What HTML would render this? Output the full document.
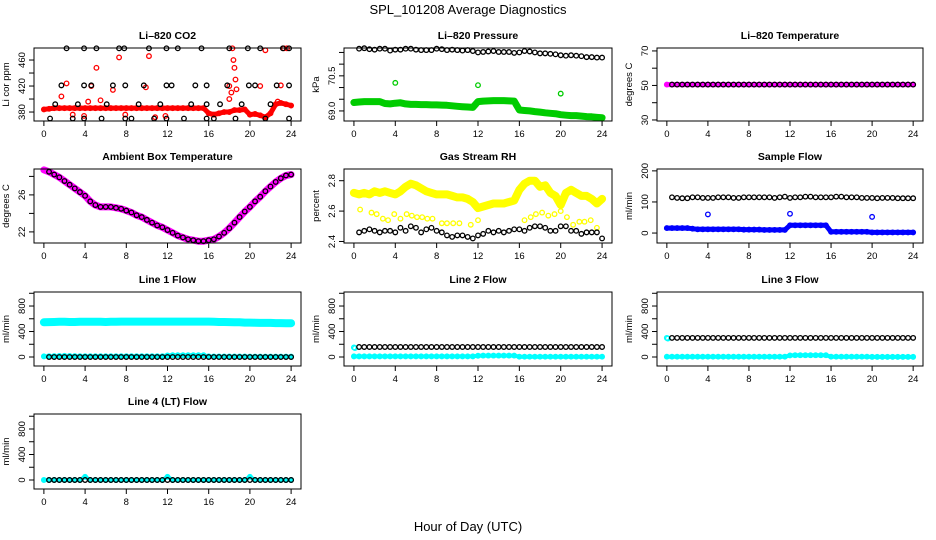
<!DOCTYPE html>
<html><head><meta charset="utf-8"><style>
body{margin:0;background:#fff}
svg{display:block;font-family:"Liberation Sans",sans-serif}
</style></head><body>
<svg id="c" width="936" height="540" viewBox="0 0 936 540">
<text x="468" y="14" text-anchor="middle" font-size="13">SPL_101208  Average Diagnostics</text>
<text x="468" y="531" text-anchor="middle" font-size="13">Hour of Day (UTC)</text>
</svg>
<script>
const H49=[0,0.5,1,1.5,2,2.5,3,3.5,4,4.5,5,5.5,6,6.5,7,7.5,8,8.5,9,9.5,10,10.5,11,11.5,12,12.5,13,13.5,14,14.5,15,15.5,16,16.5,17,17.5,18,18.5,19,19.5,20,20.5,21,21.5,22,22.5,23,23.5,24];
const H48=[0.5,1,1.5,2,2.5,3,3.5,4,4.5,5,5.5,6,6.5,7,7.5,8,8.5,9,9.5,10,10.5,11,11.5,12,12.5,13,13.5,14,14.5,15,15.5,16,16.5,17,17.5,18,18.5,19,19.5,20,20.5,21,21.5,22,22.5,23,23.5,24];
const xTicks=[0,4,8,12,16,20,24];
const co2Red=[384,385,386,386,386,386,386,386,386,386,386,386,386,386,386,386,386,386,386,386,386,386,386,386,386,386,386,386,386,386,386,386,378,376,378,380,380,383,383,384,376,377,375,372,378,392,394,392,390];
const co2RedOutX=[1.7,2.2,2.8,3.9,4.3,4.6,5.1,5.5,6.7,7.3,7.9,9.9,10.2,10.8,11.8,18.0,18.2,18.3,18.4,18.5,18.6,18.7,18.0,21.0,21.5,22.7,23.0,23.3,23.6];
const co2RedOutY=[404,424,376,374,396,420,448,398,414,464,376,418,466,372,374,400,410,478,460,448,430,415,420,420,475,396,421,478,478];
const co2BlkX=[0.6,1.1,1.7,2.2,2.8,3.3,3.9,3.9,3.9,4.6,5.1,5.6,6.1,6.7,7.3,7.8,7.9,7.9,8.5,9.2,9.7,10.2,10.7,11.3,11.9,11.9,11.9,12.4,13.0,13.6,14.3,14.7,15.3,15.8,15.8,15.8,16.5,17.1,17.8,18.0,18.6,19.2,19.8,19.9,20.5,21.0,21.5,22.0,22.6,23.2,23.8,23.8,23.8];
const co2BlkY=[370,392,421,478,370,392,478,421,370,421,478,370,392,421,478,478,421,370,370,392,421,478,370,392,478,421,370,421,478,370,392,421,478,421,392,370,370,392,421,478,370,392,478,421,421,478,370,392,421,478,478,421,370];
const presGreen=[69.36,69.38,69.40,69.40,69.40,69.40,69.32,69.30,69.33,69.35,69.30,69.28,69.28,69.27,69.27,69.26,69.26,69.25,69.24,69.22,69.20,69.18,69.17,69.15,69.40,69.42,69.43,69.44,69.44,69.44,69.43,69.42,69.04,69.02,69.00,68.97,68.95,68.92,68.90,68.88,68.84,68.82,68.80,68.80,68.78,68.76,68.75,68.73,68.71];
const presBlack=[71.66,71.68,71.64,71.62,71.66,71.66,71.58,71.62,71.62,71.66,71.66,71.62,71.60,71.60,71.60,71.66,71.64,71.60,71.62,71.60,71.58,71.60,71.56,71.50,71.52,71.54,71.56,71.52,71.52,71.52,71.48,71.50,71.56,71.54,71.50,71.46,71.46,71.44,71.42,71.38,71.36,71.38,71.36,71.34,71.30,71.30,71.28,71.28];
const presOutX=[4,12,20], presOutY=[70.2,70.1,69.74];
const tempMag=[50.5,50.5,50.5,50.5,50.5,50.5,50.5,50.5,50.5,50.5,50.5,50.5,50.5,50.5,50.5,50.5,50.5,50.5,50.5,50.5,50.5,50.5,50.5,50.5,50.5,50.5,50.5,50.5,50.5,50.5,50.5,50.5,50.5,50.5,50.5,50.5,50.5,50.5,50.5,50.5,50.5,50.5,50.5,50.5,50.5,50.5,50.5,50.5,50.5];
const tempBlack=[50.5,50.5,50.5,50.5,50.5,50.5,50.5,50.5,50.5,50.5,50.5,50.5,50.5,50.5,50.5,50.5,50.5,50.5,50.5,50.5,50.5,50.5,50.5,50.5,50.5,50.5,50.5,50.5,50.5,50.5,50.5,50.5,50.5,50.5,50.5,50.5,50.5,50.5,50.5,50.5,50.5,50.5,50.5,50.5,50.5,50.5,50.5,50.5];
const ambMag=[28.7,28.5,28.2,27.9,27.5,27.1,26.7,26.3,25.9,25.3,24.9,24.7,24.7,24.7,24.6,24.5,24.3,24.1,23.8,23.6,23.3,23.0,22.7,22.5,22.2,21.9,21.6,21.4,21.2,21.1,21.0,21.0,21.1,21.2,21.5,21.9,22.4,23.0,23.6,24.2,24.7,25.3,25.8,26.4,26.9,27.4,27.8,28.1,28.2];
const ambBlack=[28.5,28.2,27.9,27.5,27.1,26.7,26.3,25.9,25.3,24.9,24.7,24.7,24.7,24.6,24.5,24.3,24.1,23.8,23.6,23.3,23.0,22.7,22.5,22.2,21.9,21.6,21.4,21.2,21.1,21.0,21.0,21.1,21.2,21.5,21.9,22.4,23.0,23.6,24.2,24.7,25.3,25.8,26.4,26.9,27.4,27.8,28.1,28.2];
const rhYellow=[2.72,2.71,2.72,2.71,2.73,2.72,2.73,2.72,2.71,2.73,2.76,2.78,2.77,2.75,2.73,2.72,2.71,2.71,2.71,2.70,2.69,2.69,2.68,2.66,2.62,2.63,2.64,2.65,2.65,2.65,2.66,2.67,2.74,2.78,2.80,2.80,2.76,2.77,2.72,2.70,2.64,2.72,2.74,2.72,2.70,2.70,2.68,2.65,2.68];
const rhLowX=[0.6,1.7,2.2,2.8,3.3,3.9,4.5,5.1,5.6,6.1,6.6,7.1,7.6,8.5,9.0,9.6,10.2,11.3,12.0,16.5,17.1,17.6,18.2,18.8,19.4,20.0,20.6,21.2,21.8,22.3,22.9,23.5];
const rhLowY=[2.61,2.59,2.58,2.55,2.54,2.58,2.55,2.58,2.57,2.56,2.56,2.55,2.55,2.52,2.52,2.52,2.52,2.51,2.54,2.54,2.56,2.58,2.59,2.57,2.58,2.60,2.56,2.51,2.53,2.53,2.54,2.49];
const rhBlack=[2.46,2.47,2.48,2.47,2.46,2.47,2.47,2.46,2.49,2.47,2.50,2.49,2.46,2.48,2.49,2.47,2.46,2.44,2.43,2.44,2.44,2.43,2.42,2.44,2.45,2.47,2.46,2.47,2.46,2.47,2.48,2.48,2.47,2.49,2.50,2.50,2.49,2.47,2.47,2.50,2.50,2.47,2.47,2.45,2.46,2.46,2.46,2.42];
const sfBlue=[16,16,16,16,16,14,12,12,12,12,12,12,12,12,12,11,11,11,11,10,10,10,10,10,25,25,25,25,25,25,25,25,4,4,4,4,4,4,4,4,2,2,2,2,2,2,2,2,2];
const sfBlack=[115,113,112,112,115,115,113,113,113,115,115,115,113,113,115,115,115,115,115,115,113,115,117,113,115,115,117,117,115,115,115,115,117,117,115,115,115,113,113,113,112,113,113,113,112,112,112,112];
const sfOutX=[4,12,20], sfOutY=[60,62,52];
const l1Cyan=[545,548,550,552,552,550,550,552,552,552,552,552,550,552,552,555,555,555,555,555,555,555,555,555,555,555,555,555,555,555,555,555,555,552,550,550,548,545,545,540,540,538,535,535,535,532,532,530,530];
const l1CyanLow=[10,12,14,16,18,16,14,12,12,12,12,12,12,12,12,12,12,12,12,12,12,12,12,12,25,28,28,28,28,28,28,28,10,8,8,8,8,8,8,8,6,6,6,6,6,6,6,6,6];
const l1Black=[0,0,0,0,0,0,0,0,0,0,0,0,0,0,0,0,0,0,0,0,0,0,0,0,0,0,0,0,0,0,0,0,0,0,0,0,0,0,0,0,0,0,0,0,0,0,0,0];
const l2Cyan=[10,10,10,10,10,10,10,10,10,10,10,10,10,10,10,10,10,10,10,10,10,10,10,10,20,22,22,22,22,22,22,22,5,5,5,5,5,5,5,5,5,5,5,5,5,5,5,5,5];
const l2CyanOutX=[0,0.1], l2CyanOutY=[150,140];
const l2Black=[157,157,157,157,157,157,157,157,157,157,157,157,157,157,157,157,157,157,157,157,157,157,157,157,157,157,157,157,157,157,157,157,157,157,157,157,157,157,157,157,157,157,157,157,157,157,157,157];
const l3Cyan=[5,5,5,5,5,5,5,5,5,5,5,5,5,5,5,5,5,5,5,5,5,5,5,5,25,28,28,28,28,28,28,28,5,5,5,5,5,5,5,5,2,2,2,2,2,2,2,2,2];
const l3CyanOutX=[0,0.1], l3CyanOutY=[300,290];
const l3Black=[300,300,300,300,300,300,300,300,300,300,300,300,300,300,300,300,300,300,300,300,300,300,300,300,300,300,300,300,300,300,300,300,300,300,300,300,300,300,300,300,300,300,300,300,300,300,300,300];
const l4Cyan=[0,0,0,0,0,0,0,0,50,0,0,0,0,0,0,0,0,0,0,0,0,0,0,0,50,0,0,0,0,0,0,0,0,0,0,0,0,0,0,0,50,0,0,0,0,0,0,0,0];
const l4Black=[0,0,0,0,0,0,0,0,0,0,0,0,0,0,0,0,0,0,0,0,0,0,0,0,0,0,0,0,0,0,0,0,0,0,0,0,0,0,0,0,0,0,0,0,0,0,0,0];

const svg=document.getElementById('c');
const NS='http://www.w3.org/2000/svg';
function mk(tag,attrs,parent){const e=document.createElementNS(NS,tag);for(const k in attrs)e.setAttribute(k,attrs[k]);(parent||svg).appendChild(e);return e;}
const cols=[[34,301],[344,612],[657,923]];
const rows=[[48,121],[169,243],[292,366],[414,489]];
const panels=[
 {name:'li820-co2',title:'Li\u2013820 CO2',yl:'Li cor ppm',c:0,r:0,ymin:366.2,ymax:478.5,ticks:[380,400,420,440,460],labs:['380','','420','','460']},
 {name:'li820-pressure',title:'Li\u2013820 Pressure',yl:'kPa',c:1,r:0,ymin:68.57,ymax:71.69,ticks:[69,69.5,70,70.5,71,71.5],labs:['69.0','','','70.5','','']},
 {name:'li820-temperature',title:'Li\u2013820 Temperature',yl:'degrees C',c:2,r:0,ymin:29.4,ymax:71.7,ticks:[30,40,50,60,70],labs:['30','','50','','70']},
 {name:'ambient-box-temperature',title:'Ambient Box Temperature',yl:'degrees C',c:0,r:1,ymin:20.8,ymax:28.8,ticks:[22,24,26,28],labs:['22','','26','']},
 {name:'gas-stream-rh',title:'Gas Stream RH',yl:'percent',c:1,r:1,ymin:2.39,ymax:2.877,ticks:[2.4,2.6,2.8],labs:['2.4','2.6','2.8']},
 {name:'sample-flow',title:'Sample Flow',yl:'ml/min',c:2,r:1,ymin:-32,ymax:206,ticks:[0,100,200],labs:['0','100','200']},
 {name:'line1-flow',title:'Line 1 Flow',yl:'ml/min',c:0,r:2,ymin:-141,ymax:1020,ticks:[0,200,400,600,800,1000],labs:['0','','400','','800','']},
 {name:'line2-flow',title:'Line 2 Flow',yl:'ml/min',c:1,r:2,ymin:-141,ymax:1020,ticks:[0,200,400,600,800,1000],labs:['0','','400','','800','']},
 {name:'line3-flow',title:'Line 3 Flow',yl:'ml/min',c:2,r:2,ymin:-141,ymax:1020,ticks:[0,200,400,600,800,1000],labs:['0','','400','','800','']},
 {name:'line4-lt-flow',title:'Line 4 (LT) Flow',yl:'ml/min',c:0,r:3,ymin:-141,ymax:1035,ticks:[0,200,400,600,800,1000],labs:['0','','400','','800','']}
];
function axes(p){
 const [L,R]=cols[p.c],[T,B]=rows[p.r];
 const g=mk('g',{});
 
 
 const sx=v=>L+(R-L)*(v+0.96)/25.92;
 const sy=v=>B-(B-T)*(v-p.ymin)/(p.ymax-p.ymin);
 const t=mk('text',{x:(L+R)/2,y:T-9,'text-anchor':'middle','font-size':'10.5','font-weight':'bold'},g);t.textContent=p.title;
 
 
 const yt=mk('text',{transform:`translate(${L-25},${(T+B)/2}) rotate(-90)`,'text-anchor':'middle','font-size':'9.5'},g);yt.textContent=p.yl;
 
 
 xTicks.forEach(v=>{const x=sx(v);mk('line',{x1:x,x2:x,y1:B,y2:B+5,stroke:'#000'},g);
  const tx=mk('text',{x:x,y:B+16,'text-anchor':'middle','font-size':'9.5'},g);tx.textContent=v;
  
  });
 p.ticks.forEach((v,i)=>{const y=sy(v);if(y<T-1||y>B+1)return;mk('line',{x1:L-5,x2:L,y1:y,y2:y,stroke:'#000'},g);
  if(p.labs[i]){const ty=mk('text',{transform:`translate(${L-9},${y}) rotate(-90)`,'text-anchor':'middle','font-size':'9.5'},g);ty.textContent=p.labs[i];
  
  }});
 const cg=mk('g',{},g);
 mk('rect',{x:L,y:T,width:R-L,height:B-T,fill:'none',stroke:'#000','stroke-width':1},g);
 return {sx,sy,g:cg};
}
function band(a,xs,ys,col,w,nm){
 const pts=xs.map((x,i)=>a.sx(x).toFixed(1)+','+a.sy(ys[i]).toFixed(1)).join(' ');
 const pl=mk('polyline',{points:pts,fill:'none',stroke:col,'stroke-width':w,'stroke-linejoin':'round','stroke-linecap':'round'},a.g);
 
 
 pts2(a,xs,ys,col,nm+'-point');
}
function pts2(a,xs,ys,col,nm){
 xs.forEach((x,i)=>{const c=mk('circle',{cx:a.sx(x),cy:a.sy(ys[i]),r:2.3,fill:'none',stroke:col,'stroke-width':1.3},a.g);
  
  });
}
const A=panels.map(axes);
band(A[0],H49,co2Red,'#f00',5,'co2-red-series');
pts2(A[0],co2RedOutX,co2RedOutY,'#f00','co2-red-outlier');
pts2(A[0],co2BlkX,co2BlkY,'#000','co2-black-point');
band(A[1],H49,presGreen,'#0c0',7,'pressure-green-series');
pts2(A[1],presOutX,presOutY,'#0c0','pressure-outlier');
pts2(A[1],H48,presBlack,'#000','pressure-black-point');
band(A[2],H49,tempMag,'#f0f',5,'temperature-magenta-series');
pts2(A[2],H48,tempBlack,'#000','temperature-black-point');
band(A[3],H49,ambMag,'#f0f',7,'ambient-magenta-series');
pts2(A[3],H48,ambBlack,'#000','ambient-black-point');
band(A[4],H49,rhYellow,'#ff0',8,'rh-yellow-series');
pts2(A[4],rhLowX,rhLowY,'#ff0','rh-yellow-low-point');
pts2(A[4],H48,rhBlack,'#000','rh-black-point');
band(A[5],H49,sfBlue,'#00f',5,'sample-flow-blue-series');
pts2(A[5],sfOutX,sfOutY,'#00f','sample-flow-outlier');
pts2(A[5],H48,sfBlack,'#000','sample-flow-black-point');
band(A[6],H49,l1Cyan,'#0ff',8,'line1-cyan-series');
band(A[6],H49,l1CyanLow,'#0ff',4,'line1-cyan-low-series');
pts2(A[6],H48,l1Black,'#000','line1-black-point');
band(A[7],H49,l2Cyan,'#0ff',4,'line2-cyan-series');
pts2(A[7],l2CyanOutX,l2CyanOutY,'#0ff','line2-cyan-outlier');
pts2(A[7],H48,l2Black,'#000','line2-black-point');
band(A[8],H49,l3Cyan,'#0ff',4,'line3-cyan-series');
pts2(A[8],l3CyanOutX,l3CyanOutY,'#0ff','line3-cyan-outlier');
pts2(A[8],H48,l3Black,'#000','line3-black-point');
band(A[9],H49,l4Cyan,'#0ff',4,'line4-cyan-series');
pts2(A[9],H48,l4Black,'#000','line4-black-point');
</script>
</body></html>
